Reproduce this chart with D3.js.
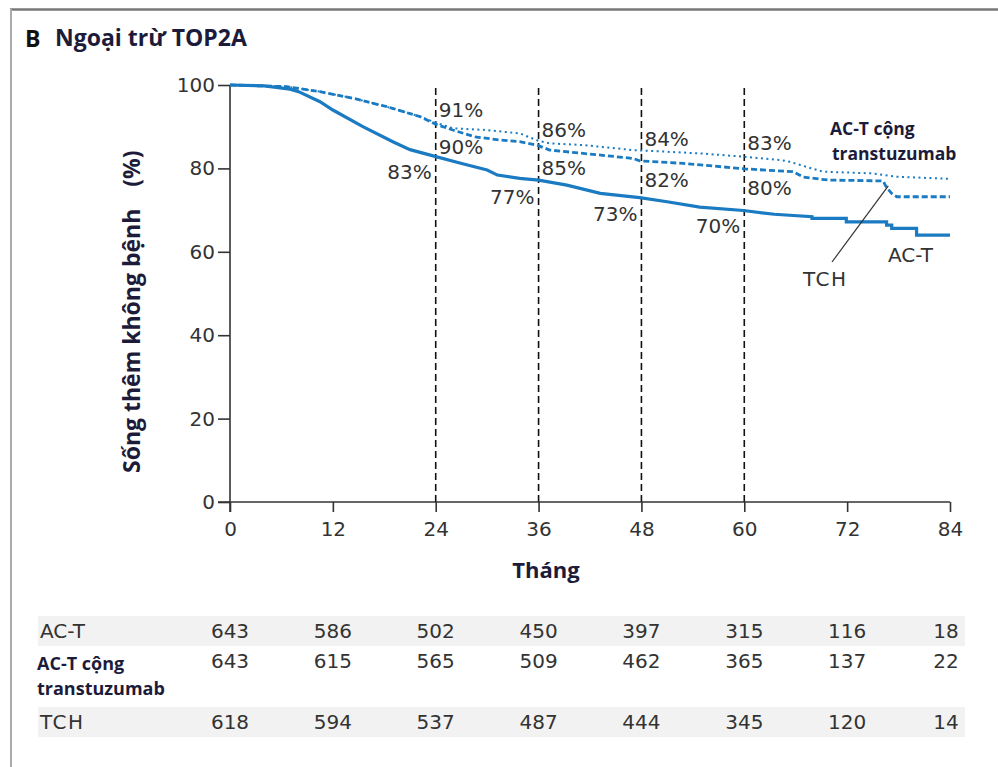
<!DOCTYPE html>
<html><head><meta charset="utf-8">
<script src="https://cdn.jsdelivr.net/npm/d3@7"></script>
<style>body{margin:0;background:#fff}svg{display:block}</style>
</head><body>
<script>
// ---------- data ----------
const monthTicks = [0, 12, 24, 36, 48, 60, 72, 84];
const yTicks = [0, 20, 40, 60, 80, 100];
const landmarkMonths = [24, 36, 48, 60];

// AC-T (solid)
const actMonths = [0, 4, 7, 8, 10.5, 12, 15.5, 19, 21, 23.7, 26.8, 30, 31.2, 33.8, 36, 39.3, 43.2, 47.8, 51, 54.8, 59.9, 63.5, 67.9, 67.9, 71.9, 71.9, 76.6, 76.6, 77.2, 77.2, 80.1, 80.1, 84];
const actValues = [100, 99.8, 99, 98.4, 96, 94, 90, 86.4, 84.5, 83, 81.3, 79.6, 78.4, 77.6, 77.2, 76, 74, 73, 72, 70.7, 69.9, 69, 68.4, 68.0, 68.0, 67.2, 67.2, 66.4, 66.4, 65.6, 65.6, 64.0, 64.0];

// AC-T cộng transtuzumab (dotted)
const achMonths = [0, 6.6, 10.5, 14.4, 18.3, 22.2, 24, 26, 29.9, 33.8, 36, 37.3, 41.2, 47, 54.8, 60, 64.2, 65.3, 67.2, 69.2, 75, 77.8, 84];
const achValues = [100, 99.6, 98.4, 96.8, 94.8, 92.4, 91, 89.6, 89.2, 88.4, 86.6, 86, 85.6, 84.4, 83.6, 82.8, 82, 81.6, 80.4, 79.2, 78.8, 78, 77.5];

// TCH (dashed)
const tchMonths = [0, 6.6, 10.5, 14.4, 18.3, 22.2, 24, 26, 28.5, 31.5, 33.8, 35.8, 37.3, 41.2, 47, 47.8, 52.9, 60, 65.7, 66.9, 69.8, 76.2, 76.6, 77.2, 77.8, 84];
const tchValues = [100, 99.6, 98.4, 96.8, 94.8, 92.4, 90.6, 89.2, 87.6, 86.8, 86.4, 85.6, 84.4, 83.6, 82.4, 81.8, 81.2, 79.9, 79.2, 77.9, 77.2, 77, 75.4, 74, 73.2, 73.2];

// landmark percentages
const achLabels = [91, 86, 84, 83];
const tchLabels = [90, 85, 82, 80];
const actLabels = [83, 77, 73, 70];

// numbers at risk
const riskRowNames = ["AC-T", "AC-T cộng transtuzumab", "TCH"];
const riskACT = [643, 586, 502, 450, 397, 315, 116, 18];
const riskACH = [643, 615, 565, 509, 462, 365, 137, 22];
const riskTCH = [618, 594, 537, 487, 444, 345, 120, 14];

// ---------- drawing ----------
const W = 998, H = 767;
const blue = "#1a7ac2";
const navy = "#1c1c3a";
const boldFont = "Open Sans, sans-serif";
const svg = d3.select("body").append("svg").attr("width", W).attr("height", H);

// frame
svg.append("line").attr("x1", 10).attr("x2", W).attr("y1", 9.5).attr("y2", 9.5).attr("stroke", "#777").attr("stroke-width", 2.5);
svg.append("line").attr("x1", 11).attr("x2", 11).attr("y1", 9).attr("y2", H).attr("stroke", "#aaa").attr("stroke-width", 2);

// title
svg.append("text").attr("x", 25).attr("y", 47).attr("font-family", boldFont).attr("font-weight", "bold").attr("font-size", 23).attr("fill", "#111").text("B");
svg.append("text").attr("x", 55).attr("y", 46).attr("font-family", boldFont).attr("font-weight", "bold").attr("font-size", 23).attr("fill", navy).text("Ngoại trừ TOP2A");

const x = d3.scaleLinear().domain([0, 84]).range([230, 950]);
const y = d3.scaleLinear().domain([0, 100]).range([502, 85]);

// landmark dashed lines
svg.append("g").selectAll("line").data(landmarkMonths).join("line")
  .attr("x1", d => x(d)).attr("x2", d => x(d)).attr("y1", 88).attr("y2", y(0))
  .attr("stroke", "#111").attr("stroke-width", 1.6).attr("stroke-dasharray", "7,4");

// axes
const axisFont = "DejaVu Sans, sans-serif";
const gy = svg.append("g").attr("transform", `translate(${x(0)},0)`)
  .call(d3.axisLeft(y).tickValues(yTicks).tickSize(12).tickPadding(3));
gy.select(".domain").remove();
gy.append("line").attr("x1", 0).attr("x2", 0).attr("y1", y(100)).attr("y2", y(0) + 10).attr("stroke", "#333").attr("stroke-width", 1.6);
gy.selectAll(".tick line").attr("stroke", "#333").attr("stroke-width", 1.6);
gy.selectAll(".tick text").attr("font-family", axisFont).attr("font-size", 20).attr("fill", "#333");

const gx = svg.append("g").attr("transform", `translate(0,${y(0)})`)
  .call(d3.axisBottom(x).tickValues(monthTicks).tickSize(10).tickPadding(10));
gx.select(".domain").remove();
gx.append("line").attr("x1", x(0) - 12).attr("x2", x(84)).attr("y1", 0).attr("y2", 0).attr("stroke", "#333").attr("stroke-width", 1.6);
gx.selectAll(".tick line").attr("stroke", "#333").attr("stroke-width", 1.6);
gx.selectAll(".tick text").attr("font-family", axisFont).attr("font-size", 20).attr("fill", "#333");

// axis titles
svg.append("text").attr("x", 546).attr("y", 578).attr("text-anchor", "middle")
  .attr("font-family", boldFont).attr("font-weight", "bold").attr("font-size", 22).attr("fill", navy).text("Tháng");
const yl = svg.append("text").attr("transform", "translate(140,473) rotate(-90)")
  .attr("font-family", boldFont).attr("font-weight", "bold").attr("font-size", 23).attr("fill", navy);
yl.append("tspan").text("Sống thêm không bệnh");
yl.append("tspan").attr("dx", 22).text("(%)");

// curves
const line = d3.line().x(d => x(d[0])).y(d => y(d[1]));
const zip = (a, b) => a.map((m, i) => [m, b[i]]);
svg.append("path").datum(zip(achMonths, achValues)).attr("d", line).attr("fill", "none")
  .attr("stroke", blue).attr("stroke-width", 2).attr("stroke-dasharray", "2,3.5");
svg.append("path").datum(zip(tchMonths, tchValues)).attr("d", line).attr("fill", "none")
  .attr("stroke", blue).attr("stroke-width", 2.8).attr("stroke-dasharray", "6,3");
svg.append("path").datum(zip(actMonths, actValues)).attr("d", line).attr("fill", "none")
  .attr("stroke", blue).attr("stroke-width", 3.2);

// landmark labels
const lblFont = "DejaVu Sans, sans-serif";
const lg = svg.append("g").attr("font-family", lblFont).attr("font-size", 20).attr("fill", "#333");
lg.selectAll("text.ach").data(achLabels).join("text").attr("class", "ach")
  .attr("x", (d, i) => x(landmarkMonths[i]) + 3).attr("y", d => y(d) - 6).text(d => d + "%");
lg.selectAll("text.tch").data(tchLabels).join("text").attr("class", "tch")
  .attr("x", (d, i) => x(landmarkMonths[i]) + 3).attr("y", d => y(d) + 27).text(d => d + "%");
lg.selectAll("text.act").data(actLabels).join("text").attr("class", "act")
  .attr("text-anchor", "end")
  .attr("x", (d, i) => x(landmarkMonths[i]) - 4).attr("y", d => y(d) + 23).text(d => d + "%");

// series labels
const sl = svg.append("text").attr("font-family", boldFont).attr("font-weight", "bold").attr("font-size", 17.5).attr("fill", navy);
sl.append("tspan").attr("x", 830).attr("y", 135).text("AC-T cộng");
sl.append("tspan").attr("x", 832).attr("y", 160).text("transtuzumab");
svg.append("text").attr("x", 888).attr("y", 262).attr("font-family", lblFont).attr("font-size", 20).attr("fill", "#333").text("AC-T");
svg.append("text").attr("x", 803).attr("y", 286).attr("font-family", lblFont).attr("font-size", 20).attr("fill", "#333").attr("letter-spacing", 1.5).text("TCH");
svg.append("line").attr("x1", 832).attr("y1", 262).attr("x2", x(76.8)).attr("y2", y(75.8)).attr("stroke", "#333").attr("stroke-width", 1.2);

// risk table
svg.append("rect").attr("x", 38).attr("y", 616).attr("width", 927).attr("height", 30).attr("fill", "#f2f2f2");
svg.append("rect").attr("x", 38).attr("y", 707).attr("width", 927).attr("height", 30).attr("fill", "#f2f2f2");
const tf = "DejaVu Sans, sans-serif";
svg.append("text").attr("x", 40).attr("y", 638).attr("font-family", tf).attr("font-size", 20).attr("fill", "#333").text(riskRowNames[0]);
const r2 = svg.append("text").attr("font-family", boldFont).attr("font-weight", "bold").attr("font-size", 18).attr("fill", navy);
r2.append("tspan").attr("x", 37).attr("y", 670).text("AC-T cộng");
r2.append("tspan").attr("x", 37).attr("y", 695).text("transtuzumab");
svg.append("text").attr("x", 40).attr("y", 729).attr("font-family", tf).attr("font-size", 20).attr("fill", "#333").attr("letter-spacing", 1.5).text(riskRowNames[2]);

[[riskACT, 638], [riskACH, 668], [riskTCH, 729]].forEach(([arr, yy]) => {
  svg.append("g").selectAll("text").data(arr).join("text")
    .attr("x", (d, i) => Math.min(x(monthTicks[i]), 946)).attr("y", yy).attr("text-anchor", "middle")
    .attr("font-family", tf).attr("font-size", 20).attr("fill", "#333").text(d => d);
});
</script>
</body></html>
